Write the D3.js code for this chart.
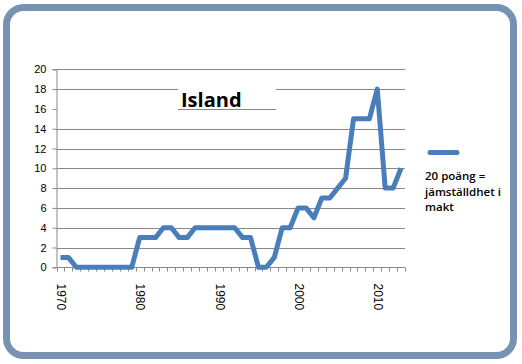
<!DOCTYPE html>
<html>
<head>
<meta charset="utf-8">
<script src="https://cdn.jsdelivr.net/npm/d3@7"></script>
<style>
  body { margin: 0; background: #fff; }
  svg { display: block; }
  .tick text { font-family: "Liberation Sans", Arial, sans-serif; font-size: 11px; fill: #000; }
</style>
</head>
<body>
<svg id="chart"></svg>
<script>
// Island, points per year (20 = equality in power)
var years = d3.range(1970, 2014);
var points = [1, 1, 0, 0, 0, 0, 0, 0, 0, 0,
              3, 3, 3, 4, 4, 3, 3, 4, 4, 4,
              4, 4, 4, 3, 3, 0, 0, 1, 4, 4,
              6, 6, 5, 7, 7, 8, 9, 15, 15, 15,
              18, 8, 8, 10];
var yTicks = [0, 2, 4, 6, 8, 10, 12, 14, 16, 18, 20];
var labelYears = [1970, 1980, 1990, 2000, 2010];
var titleText = "Island";
var legendLines = ["20 poäng =", "jämställdhet i", "makt"];

var W = 522, H = 364;
var plot = { left: 56.5, right: 405, top: 69.3, bottom: 267.3 };
var lineColor = "#4a7ebb", gridColor = "#888888";

var svg = d3.select("#chart").attr("width", W).attr("height", H);

// outer rounded frame
svg.append("rect")
   .attr("x", 6.5).attr("y", 7.5)
   .attr("width", 507).attr("height", 348)
   .attr("rx", 17).attr("ry", 17)
   .attr("fill", "#fff")
   .attr("stroke", "#7792b2")
   .attr("stroke-width", 7);

var x = d3.scaleBand().domain(years).range([plot.left, plot.right]);
var y = d3.scaleLinear().domain([0, 20]).range([plot.bottom, plot.top]);

// gridlines (the 16 line is only visible under the title box in the original)
svg.append("g").selectAll("line")
   .data(yTicks.filter(function(d) { return d > 0 && d != 16; }))
   .enter().append("line")
   .attr("x1", plot.left).attr("x2", plot.right)
   .attr("y1", function(d) { return Math.round(y(d)) + 0.5; })
   .attr("y2", function(d) { return Math.round(y(d)) + 0.5; })
   .attr("stroke", gridColor).attr("stroke-width", 1);

// y axis
var yAxis = d3.axisLeft(y).tickValues(yTicks).tickSize(4).tickPadding(6);
var gy = svg.append("g")
   .attr("transform", "translate(" + plot.left + ",0)")
   .call(yAxis);
gy.selectAll("path, line").attr("stroke", gridColor);

// x axis: ticks at every category boundary, labels every 10 years
var gx = svg.append("g")
   .attr("transform", "translate(0," + (Math.round(plot.bottom) + 0.5) + ")");
gx.append("line")
   .attr("x1", plot.left).attr("x2", plot.right)
   .attr("stroke", gridColor);
gx.selectAll(".tk")
   .data(years.concat([null]))
   .enter().append("line")
   .attr("class", "tk")
   .attr("x1", function(d, i) { return Math.round(plot.left + i * x.step()) + 0.5; })
   .attr("x2", function(d, i) { return Math.round(plot.left + i * x.step()) + 0.5; })
   .attr("y1", 0).attr("y2", 4)
   .attr("stroke", gridColor);
gx.selectAll("text")
   .data(labelYears)
   .enter().append("text")
   .attr("transform", function(d) {
       return "translate(" + (x(d) + x.bandwidth() / 2 + 1) + ",16) rotate(90)";
   })
   .attr("dy", "0.35em")
   .attr("font-family", "Liberation Sans, Arial, sans-serif")
   .attr("font-size", 12)
   .text(function(d) { return d; });

// title box
var tb = svg.append("g");
tb.append("rect")
   .attr("x", 178).attr("y", 84).attr("width", 98).attr("height", 24)
   .attr("fill", "#fff");
tb.append("line")
   .attr("x1", 178).attr("x2", 276)
   .attr("y1", Math.round(y(16)) + 0.5).attr("y2", Math.round(y(16)) + 0.5)
   .attr("stroke", gridColor);
tb.append("text")
   .attr("x", 181).attr("y", 106.5)
   .attr("font-family", "Open Sans, sans-serif")
   .attr("font-weight", "bold")
   .attr("font-size", 20)
   .text(titleText);

// the series
var line = d3.line()
   .x(function(d, i) { return x(years[i]) + x.bandwidth() / 2; })
   .y(function(d) { return y(d); });
svg.append("path")
   .datum(points)
   .attr("d", line)
   .attr("fill", "none")
   .attr("stroke", lineColor)
   .attr("stroke-width", 5)
   .attr("stroke-linejoin", "round");

// legend
var lg = svg.append("g");
lg.append("line")
   .attr("x1", 430).attr("x2", 457)
   .attr("y1", 152.5).attr("y2", 152.5)
   .attr("stroke", lineColor).attr("stroke-width", 5)
   .attr("stroke-linecap", "round");
lg.selectAll("text")
   .data(legendLines)
   .enter().append("text")
   .attr("x", 425)
   .attr("y", function(d, i) { return 180 + i * 15.5; })
   .attr("font-family", "Open Sans, sans-serif")
   .attr("font-weight", 600)
   .attr("font-size", 11.5)
   .text(function(d) { return d; });
</script>
</body>
</html>
